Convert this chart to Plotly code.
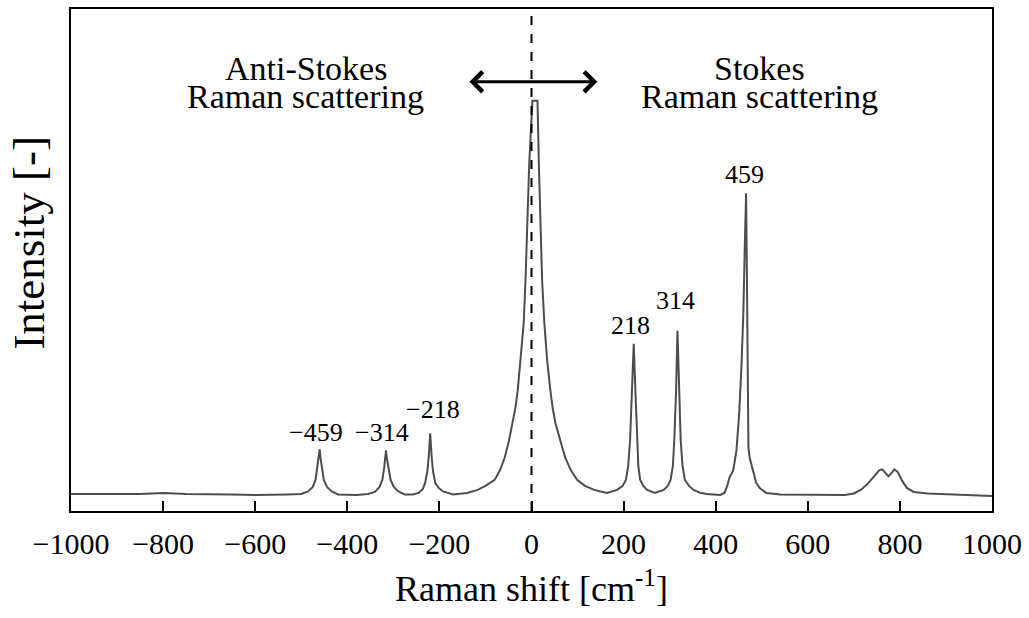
import plotly.graph_objects as go

# Spectrum (Raman shift in cm^-1, intensity in relative units 0..1)
shift = [-1000, -900, -850, -800, -750, -650, -600, -530,
         -500, -485, -475, -469, -465, -462, -460, -458, -455, -451, -444, -434, -420,
         -380, -355, -340, -330, -324, -320, -318, -316, -314, -311, -306, -299, -289, -275,
         -258, -245, -236, -231, -226, -223, -220, -217, -214, -209, -202, -192, -180,
         -170, -140, -117, -100, -80, -68, -58, -49, -41, -35, -30, -24, -17, -13, -9, -5, 2,
         13, 16, 19, 23, 28, 34, 41, 46, 52, 62, 73, 85, 99, 116, 136,
         150, 164, 186, 198, 205, 210, 214, 218, 222, 226, 229, 232, 236, 243, 251, 268,
         287, 296, 302, 307, 310, 314, 317, 320, 324, 328, 333, 342, 352, 365, 380,
         410, 419, 425, 430, 435, 438, 445, 451, 456, 460, 463, 466, 468, 470, 471, 474, 477,
         482, 488, 496, 510, 540,
         600, 680, 700, 715, 730, 745, 755, 762, 770, 775, 781, 788, 795, 805, 815, 830, 860, 1000]
intensity = [0.034, 0.034, 0.034, 0.036, 0.034, 0.033, 0.032, 0.033,
             0.034, 0.039, 0.048, 0.062, 0.085, 0.105, 0.123, 0.105, 0.085, 0.062, 0.048, 0.039, 0.033,
             0.032, 0.034, 0.038, 0.048, 0.062, 0.085, 0.105, 0.121, 0.105, 0.085, 0.062, 0.048, 0.039, 0.033,
             0.033, 0.036, 0.044, 0.056, 0.080, 0.110, 0.155, 0.110, 0.080, 0.056, 0.046, 0.039, 0.035,
             0.033, 0.036, 0.042, 0.050, 0.062, 0.082, 0.107, 0.140, 0.175, 0.205, 0.240, 0.300, 0.373,
             0.460, 0.571, 0.690, 0.817,
             0.817, 0.690, 0.571, 0.460, 0.373, 0.300, 0.240, 0.205, 0.175, 0.140, 0.107, 0.082, 0.062,
             0.050, 0.042,
             0.039, 0.036, 0.042, 0.050, 0.062, 0.090, 0.140, 0.230, 0.333, 0.230, 0.140, 0.090, 0.062,
             0.050, 0.042, 0.036,
             0.042, 0.050, 0.062, 0.090, 0.140, 0.240, 0.359, 0.240, 0.140, 0.090, 0.062, 0.050, 0.042,
             0.037, 0.034,
             0.032, 0.036, 0.050, 0.067, 0.075, 0.081, 0.120, 0.194, 0.290, 0.393, 0.520, 0.633, 0.450,
             0.200, 0.127, 0.105, 0.095,
             0.075, 0.056, 0.045, 0.036, 0.033,
             0.032, 0.032, 0.035, 0.042, 0.054, 0.070, 0.081, 0.083, 0.075, 0.069, 0.075, 0.083, 0.078,
             0.060, 0.046, 0.038, 0.035, 0.030]

peak_labels = ["\u2212459", "\u2212314", "\u2212218", "218", "314", "459"]
peak_label_x = [-469, -324, -214, 214, 313, 462]
peak_label_y = [0.157, 0.157, 0.202, 0.369, 0.419, 0.671]

tick_vals = [-1000, -800, -600, -400, -200, 0, 200, 400, 600, 800, 1000]

FONT = "Liberation Serif"

fig = go.Figure()
fig.add_trace(go.Scatter(x=shift, y=intensity, mode="lines",
                         line=dict(color="#4d4d4d", width=2),
                         hoverinfo="x+y", showlegend=False))

# dashed line at zero shift
fig.add_shape(type="line", xref="x", yref="paper", x0=0, x1=0, y0=0, y1=1,
              line=dict(color="black", width=2, dash="dash"))

# double-headed arrow (open chevron heads)
fig.add_annotation(x=143, y=0.855, ax=-138, ay=0.855, xref="x", yref="y", axref="x", ayref="y",
                   text="", showarrow=True, arrowhead=4, arrowside="end+start",
                   arrowsize=1.3, arrowwidth=3, arrowcolor="black")

for t, xx, yy in zip(peak_labels, peak_label_x, peak_label_y):
    fig.add_annotation(x=xx, y=yy, text=t, showarrow=False, xanchor="center", yanchor="middle",
                       font=dict(family=FONT, size=26, color="black"))

region_text = [("Anti-Stokes", -490, 0.882), ("Raman scattering", -490, 0.825),
               ("Stokes", 495, 0.882), ("Raman scattering", 495, 0.825)]
for t, xx, yy in region_text:
    fig.add_annotation(x=xx, y=yy, text=t, showarrow=False, xanchor="center", yanchor="middle",
                       font=dict(family=FONT, size=34, color="black"))

# y-axis title (placed as rotated text to match the reference position)
fig.add_annotation(x=-0.0454, y=0.535, xref="paper", yref="paper", text="Intensity [-]",
                   textangle=-90, showarrow=False, xanchor="center", yanchor="middle",
                   font=dict(family=FONT, size=45, color="black"))

fig.update_layout(
    width=1029, height=618,
    margin=dict(l=71, r=32, t=7, b=107),
    paper_bgcolor="white", plot_bgcolor="white",
    font=dict(family=FONT, color="black"),
    xaxis=dict(range=[-1000, 1000], tickvals=tick_vals, ticks="inside", ticklen=10, tickwidth=2,
               tickcolor="black", showline=True, linewidth=2, linecolor="black", mirror=True,
               showgrid=False, zeroline=False, tickfont=dict(family=FONT, size=30),
               ticklabelstandoff=5,
               title=dict(text="Raman shift [cm<sup>-1</sup>]", font=dict(family=FONT, size=36),
                          standoff=17)),
    yaxis=dict(range=[0, 1], showticklabels=False, ticks="", showline=True, linewidth=2,
               linecolor="black", mirror=True, showgrid=False, zeroline=False),
)

fig.write_html("out.html")
